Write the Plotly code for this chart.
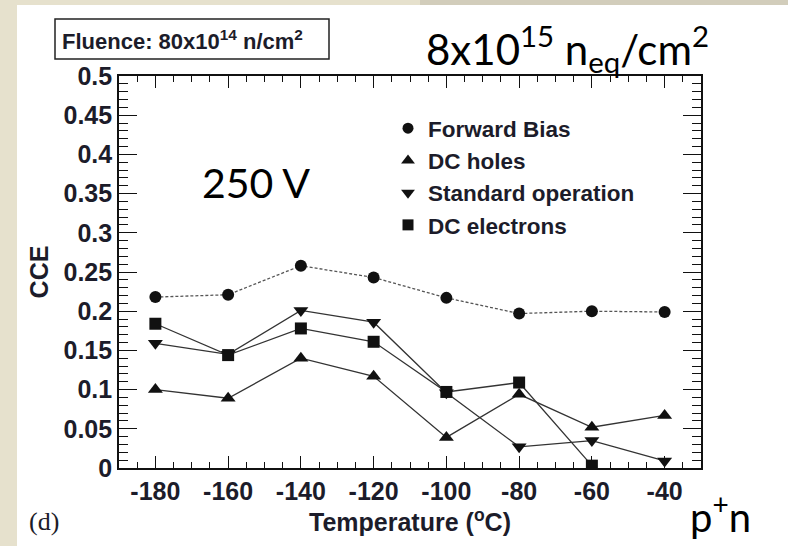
import plotly.graph_objects as go

temps = [-180, -160, -140, -120, -100, -80, -60, -40]
forward_bias = [0.218, 0.221, 0.258, 0.243, 0.217, 0.197, 0.200, 0.199]
dc_holes = [0.100, 0.089, 0.140, 0.117, 0.039, 0.094, 0.052, 0.067]
standard_op = [0.159, 0.145, 0.201, 0.186, 0.096, 0.027, 0.035, 0.009]
dc_electrons = [0.184, 0.144, 0.178, 0.161, 0.097, 0.109, 0.003, None]

y_tickvals = [0, 0.05, 0.1, 0.15, 0.2, 0.25, 0.3, 0.35, 0.4, 0.45, 0.5]
y_ticktext = ["0", "0.05", "0.1", "0.15", "0.2", "0.25", "0.3", "0.35", "0.4", "0.45", "0.5"]
x_tickvals = [-180, -160, -140, -120, -100, -80, -60, -40]
x_ticktext = ["-180", "-160", "-140", "-120", "-100", "-80", "-60", "-40"]

X_RANGE = [-190, -30]
Y_RANGE = [0, 0.5]
x_minor = [v for v in range(-190, -29, 5) if v not in x_tickvals]
y_minor = [round(i * 0.01, 2) for i in range(0, 51) if i % 5 != 0]

INK = "#1c1c2a"
LINE = "#333333"

series = [
    ("Forward Bias", forward_bias, "circle", dict(color="#555555", width=1.3, dash="3px,2px")),
    ("DC holes", dc_holes, "triangle-up", dict(color=LINE, width=1.3)),
    ("Standard operation", standard_op, "triangle-down", dict(color=LINE, width=1.3)),
    ("DC electrons", dc_electrons, "square", dict(color=LINE, width=1.3)),
]

fig = go.Figure()
for name, vals, sym, ln in series:
    size = 12 if sym in ("circle", "square") else 13
    fig.add_trace(go.Scatter(
        x=temps, y=vals, mode="lines+markers", name=name, showlegend=False,
        line=ln, connectgaps=False,
        marker=dict(symbol=sym, size=size, color="#111111"),
    ))
for name, vals, sym, ln in series:
    size = 11 if sym in ("circle", "square") else 12
    fig.add_trace(go.Scatter(
        x=[None], y=[None], mode="markers", name=name, showlegend=True,
        marker=dict(symbol=sym, size=size, color="#111111"),
    ))

axis_common = dict(
    showline=True, linecolor="#111111", linewidth=1.6, mirror="ticks",
    ticks="inside", tickcolor="#111111", tickwidth=1.4,
    showgrid=False, zeroline=False,
    tickfont=dict(family="Liberation Sans", size=25, color=INK, weight="bold"),
)

fig.update_xaxes(
    range=X_RANGE, tickmode="array", tickvals=x_tickvals, ticktext=x_ticktext, ticklen=12,
    minor=dict(tickmode="array", tickvals=x_minor, ticks="inside", ticklen=6,
               tickcolor="#111111", tickwidth=1.2, showgrid=False),
    title=dict(text="Temperature (<sup>o</sup>C)", standoff=10,
               font=dict(family="Liberation Sans", size=25, color=INK, weight="bold")),
    **axis_common,
)
fig.update_yaxes(
    range=Y_RANGE, tickmode="array", tickvals=y_tickvals, ticktext=y_ticktext, ticklen=18,
    minor=dict(tickmode="array", tickvals=y_minor, ticks="inside", ticklen=9,
               tickcolor="#111111", tickwidth=1.2, showgrid=False),
    title=dict(text="CCE", standoff=8,
               font=dict(family="Liberation Sans", size=25, color=INK, weight="bold")),
    **axis_common,
)

# plot area in pixels: x 119..701, y 76..468
def px(xp):
    return (xp - 119) / 582.0

def py(yp):
    return (468 - yp) / 392.0

shapes = [
    dict(type="rect", xref="paper", yref="paper", x0=px(-10), x1=px(800), y0=py(560), y1=py(-10),
         fillcolor="#e6e1cd", line=dict(width=0), layer="below"),
    dict(type="rect", xref="paper", yref="paper", x0=px(420), x1=px(800), y0=py(5), y1=py(-10),
         fillcolor="#d2cdbb", line=dict(width=0), layer="below"),
    dict(type="rect", xref="paper", yref="paper", x0=px(17), x1=px(800), y0=py(560), y1=py(5),
         fillcolor="white", line=dict(width=0), layer="below"),
    dict(type="rect", xref="paper", yref="paper", x0=px(55), x1=px(329), y0=py(59), y1=py(19),
         fillcolor="white", line=dict(color="#222222", width=1.5)),
]

annotations = [
    dict(text="Fluence: 80x10<sup>14</sup> n/cm<sup>2</sup>", xref="paper", yref="paper",
         x=px(60), y=py(40), xanchor="left", yanchor="middle", showarrow=False,
         font=dict(family="Liberation Sans", size=22, color=INK, weight="bold")),
    dict(text="8x10<sup>15</sup> n<sub>eq</sub>/cm<sup>2</sup>", xref="paper", yref="paper",
         x=px(424), y=py(48), xanchor="left", yanchor="middle", showarrow=False,
         font=dict(family="Lato", size=42, color="black")),
    dict(text="250 V", xref="paper", yref="paper",
         x=px(200), y=py(182), xanchor="left", yanchor="middle", showarrow=False,
         font=dict(family="Lato", size=41, color="black")),
    dict(text="p<sup>+</sup>n", xref="paper", yref="paper",
         x=px(688), y=py(514), xanchor="left", yanchor="middle", showarrow=False,
         font=dict(family="Lato", size=40, color="black")),
    dict(text="(d)", xref="paper", yref="paper",
         x=px(27), y=py(521), xanchor="left", yanchor="middle", showarrow=False,
         font=dict(family="Liberation Serif", size=26, color=INK)),
]

fig.update_layout(
    width=788, height=546,
    margin=dict(l=119, r=87, t=76, b=78, autoexpand=False),
    paper_bgcolor="white", plot_bgcolor="white",
    shapes=shapes, annotations=annotations,
    showlegend=True,
    legend=dict(x=px(388), y=py(107), xanchor="left", yanchor="top",
                bgcolor="rgba(0,0,0,0)", borderwidth=0, tracegroupgap=0,
                itemwidth=30,
                font=dict(family="Liberation Sans", size=22.5, color=INK, weight="bold")),
)

fig.write_html("out.html", config={"displayModeBar": False},
               post_script="document.body.style.margin='0';")
